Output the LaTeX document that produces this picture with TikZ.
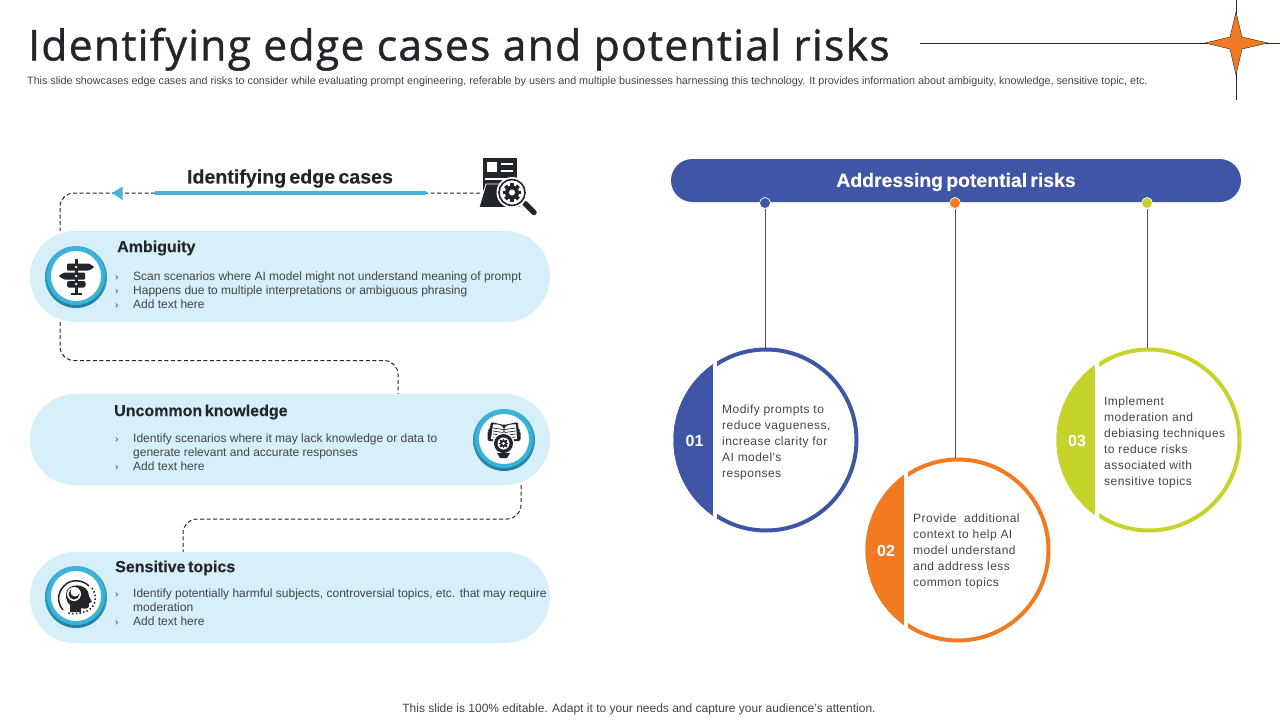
\documentclass[tikz,border=0pt]{standalone}
\usepackage{fontspec}
\setmainfont{Liberation Sans}
\newfontfamily\titlefont[LetterSpace=3,FakeBold=1]{Open Sans}
\newfontfamily\headfont[WordSpace=0.6,FakeBold=0.15]{Liberation Sans}
\newfontfamily\riskfont[LetterSpace=3.8]{Liberation Sans}
\usetikzlibrary{arrows.meta,positioning,calc}
\definecolor{inkdark}{HTML}{22262B}
\definecolor{bodygray}{HTML}{404448}
\definecolor{pillblue}{HTML}{D6EFF9}
\definecolor{ringblue}{HTML}{3DB2D8}
\definecolor{ringdark}{HTML}{1F7F9C}
\definecolor{lineblue}{HTML}{4BB2DC}
\definecolor{riskblue}{HTML}{3F55A5}
\definecolor{riskorange}{HTML}{F27A21}
\definecolor{risklime}{HTML}{C6D32A}
\newcommand{\fsz}[1]{\fontsize{#1}{#1}\selectfont}
\newcommand{\bul}{\makebox[18pt][l]{\fsz{10}›}}
\newcommand{\gearicon}[3]{% centre x, y, radius
    \foreach \a in {0,45,...,315}{\draw[line width=#3*0.42pt,inkdark] (#1,#2)++(\a:#3*0.62) -- ++(\a:#3*0.42);}
    \fill[inkdark] (#1,#2) circle (#3*0.78);
    \fill[white] (#1,#2) circle (#3*0.34);}
\newcommand{\icondisc}[2]{% centre x, y
    \shade[top color=ringblue,bottom color=ringdark] (#1,#2) circle (31);
    \fill[ringblue] (#1,#2-1) circle (29);
    \fill[white] (#1,#2-1) circle (25);}
\tikzset{
    pill/.style={fill=pillblue,minimum width=520pt,rounded corners=45pt,inner sep=0pt},
    pilltitle/.style={anchor=west,inner sep=0pt,text=inkdark,font=\headfont\fsz{16}\bfseries},
    pillbody/.style={anchor=north west,inner sep=0pt,align=left,text=bodygray,font=\fontsize{12}{14}\selectfont},
    dashline/.style={line width=1pt,dash pattern=on 4pt off 2.5pt,inkdark,rounded corners=14pt},
    stem/.style={line width=0.8pt,draw=inkdark!80},
    riskdot/.style={circle,fill=#1,draw=white,line width=0.7pt,minimum size=11pt,inner sep=0pt},
    riskring/.style={circle,draw=#1,line width=4pt,minimum size=181pt,inner sep=0pt},
    risktext/.style={anchor=north west,inner sep=0pt,align=left,text=bodygray,font=\riskfont\fontsize{12}{16}\selectfont},
    risknum/.style={text=white,inner sep=0pt,font=\fsz{16}\bfseries}
}
\begin{document}
\begin{tikzpicture}[x=1pt,y=-1pt]
\useasboundingbox (0,0) rectangle (1280,720);
% header
\node[anchor=base west,inner sep=0pt,text=inkdark] (title) at (28,60.5) {\titlefont\fsz{42.6}Identifying edge cases and potential risks};
\node[anchor=west,inner sep=0pt,text=bodygray] (subtitle) at (27,81.5) {\fsz{10.75}This slide showcases edge cases and risks to consider while evaluating prompt engineering, referable by users and multiple  businesses harnessing this technology. It provides information about ambiguity, knowledge, sensitive topic, etc.};
\draw[line width=0.8pt,inkdark] (920,43) -- (1280,43);
\draw[line width=0.8pt,inkdark] (1236,0) -- (1236,100);
\fill[riskorange,draw=inkdark,line width=0.4pt] (1236,12) -- (1242,37) -- (1268,43) -- (1242,49) -- (1236,75) -- (1230,49) -- (1205,43) -- (1230,37) -- cycle;
% pills
\node[pill,minimum height=91pt] (ambig) at (290,276.5) {};
\node[pill,minimum height=91pt] (uncommon) at (290,439.5) {};
\node[pill,minimum height=91pt] (sensitive) at (290,597.5) {};
\coordinate (finder) at (480,193);
\coordinate (turnA) at (60,193);
\coordinate (turnB) at (60,360.5);
\coordinate (turnC) at (398,360.5);
\coordinate (turnD) at (521,519);
\coordinate (turnE) at (183,519);
\draw[dashline] (finder) -- (turnA) -- (turnA |- ambig.north);
\draw[dashline] (turnB |- ambig.south) -- (turnB) -- (turnC) -- (turnC |- uncommon.north);
\draw[dashline] (turnD |- uncommon.south) -- (turnD) -- (turnE) -- (turnE |- sensitive.north);
\draw[line width=3.2pt,lineblue] (155,193) -- (426,193);
\fill[lineblue] (112,193) -- (122.5,186.5) -- (122.5,200) -- cycle;
\node[text=inkdark,inner sep=0pt] (edgehead) at (290,178.5) {\headfont\fsz{19.6}\bfseries Identifying edge cases};
% finder icon
\fill[inkdark] (483,158) rectangle (517,190);
\fill[white] (486.5,161.5) rectangle (497,172);
\fill[white] (501,163) rectangle (513,165);
\fill[white] (501,170) rectangle (513,172);
\fill[white] (485,178) -- (515,178) -- (515,180) -- (485,180) -- cycle;
\fill[inkdark,draw=white,line width=0.8pt] (479,207.5) -- (486,184) -- (520,184) -- (520,207.5) -- cycle;
\draw[line width=5.5pt,line cap=round,inkdark] (525,203.5) -- (534,212.5);
\fill[white] (512,192.5) circle (15.5);
\draw[line width=1.6pt,inkdark] (512,192.5) circle (13);
\gearicon{512}{192.5}{9}
% ambiguity
\icondisc{76}{277}
\fill[inkdark] (74.8,259) rectangle (77.6,293);
\fill[inkdark] (70.5,293) rectangle (82,295);
\fill[inkdark,rounded corners=1pt] (67,263.5) -- (89,263.5) -- (94.5,267) -- (89,270.5) -- (67,270.5) -- cycle;
\fill[inkdark,rounded corners=1pt] (85,272.5) -- (64,272.5) -- (58.5,276) -- (64,279.5) -- (85,279.5) -- cycle;
\fill[inkdark,rounded corners=2pt] (67,281) -- (85.5,281) -- (85.5,287.5) -- (67,287.5) -- cycle;
\foreach \y in {267,276,284}{\fill[white] (76.2,\y) circle (1.3);}
\node[pilltitle] (ambighead) at (117,248) {Ambiguity};
\node[pillbody] (ambigtext) at (115,271.5) {\bul Scan scenarios where AI model might not understand meaning of prompt\\ \bul Happens due to multiple interpretations or ambiguous phrasing\\ \bul Add text here};
% uncommon
\icondisc{504}{440}
\fill[inkdark,rounded corners=2pt] (491,422) -- (504,425) -- (518,422) -- (518.5,430) -- (520.5,431) -- (520.5,441) -- (487.5,441) -- (487.5,431) -- (489.5,430) -- cycle;
\fill[white] (493,424.5) .. controls (498,424) and (502,425) .. (503.3,428) -- (503.3,439) -- (491,439) -- cycle;
\fill[white] (516,424.5) .. controls (511,424) and (506,425) .. (504.7,428) -- (504.7,439) -- (517,439) -- cycle;
\foreach \y in {428,431,434,437}{\draw[line width=0.7pt,inkdark] (493,\y) -- (503,\y+1.5); \draw[line width=0.7pt,inkdark] (515.5,\y) -- (505,\y+1.5);}
\fill[white] (503.5,443.5) circle (11);
\fill[inkdark] (503.5,443.5) circle (9.5);
\fill[white] (503.5,443.5) circle (6);
\gearicon{503.5}{443.5}{4.5}
\fill[inkdark] (497,453) -- (510,453) -- (507,458) -- (500,458) -- cycle;
\node[pilltitle] (uncommonhead) at (114,412) {Uncommon knowledge};
\node[pillbody] (uncommontext) at (115,434) {\bul Identify scenarios where it may lack knowledge or data to\\ \hspace*{18pt}generate relevant and accurate responses\\ \bul Add text here};
% sensitive
\icondisc{76}{597}
\draw[line width=1.5pt,inkdark] (89,586) .. controls (82,579) and (70,579) .. (64,586) .. controls (57,593) and (57,603) .. (63,610);
\fill[inkdark] (66,595) .. controls (65,582) and (89,582) .. (89,596) -- (92,602) -- (89,603) -- (89,606) .. controls (89,609) and (84,609) .. (81,608) -- (81,612) -- (70,612) -- (70,605) .. controls (67,602) and (66,599) .. (66,595) -- cycle;
\fill[white] (74,594) circle (7);
\fill[inkdark] (74,594) circle (5.5);
\fill[white] (75,592) circle (4.5);
\draw[line width=1.6pt,dash pattern=on 1.5pt off 2.2pt,inkdark] (92,588) .. controls (99,598) and (94,610) .. (84,612) .. controls (79,614) and (73,614) .. (68,613);
\node[pilltitle] (sensitivehead) at (115,568) {Sensitive topics};
\node[pillbody] (sensitivetext) at (115,589) {\bul Identify potentially harmful subjects, controversial topics, etc. that may require\\ \hspace*{18pt}moderation\\ \bul Add text here};
% risks
\node[fill=riskblue,minimum width=570pt,minimum height=43pt,rounded corners=21.5pt,inner sep=0pt] (riskbar) at (956,180.5) {};
\node[text=white,inner sep=0pt] (riskhead) at (956,182) {\headfont\fsz{19.4}\bfseries Addressing potential risks};
\foreach \n/\x/\y/\top/\cut/\col/\num in {A/766/440/765/713/riskblue/01,B/958/550/955/904/riskorange/02,C/1149/440/1147/1095/risklime/03}{
    \node[riskring=\col] (risk\n) at (\x,\y) {};
    \fill[white] (\cut,\y-92) rectangle (\cut+3.5,\y+92);
    \begin{scope}
        \clip (\x,\y) circle (92.5);
        \fill[\col] (\x-93,\y-93) rectangle (\cut,\y+93);
    \end{scope}
    \node[riskdot=\col] (dot\n) at (\top,203) {};
    \draw[stem] (dot\n) -- (dot\n |- risk\n.north);
    \node[risknum] (num\n) at ({(\x-90+\cut)/2},\y+1) {\num};
}
\node[risktext] (riskAtext) at (722,404.5) {Modify prompts to\\reduce vagueness,\\increase clarity for\\AI model's\\responses};
\node[risktext] (riskBtext) at (913,513.5) {Provide\ \ additional\\context to help AI\\model understand\\and address less\\common topics};
\node[risktext] (riskCtext) at (1104,396.5) {Implement\\moderation and\\debiasing techniques\\to reduce risks\\associated with\\sensitive topics};
% footer
\node[text=bodygray,inner sep=0pt] (footer) at (639,709.5) {\fsz{12}This slide is 100\% editable. Adapt it to your needs and capture your audience's attention.};
\end{tikzpicture}
\end{document}
